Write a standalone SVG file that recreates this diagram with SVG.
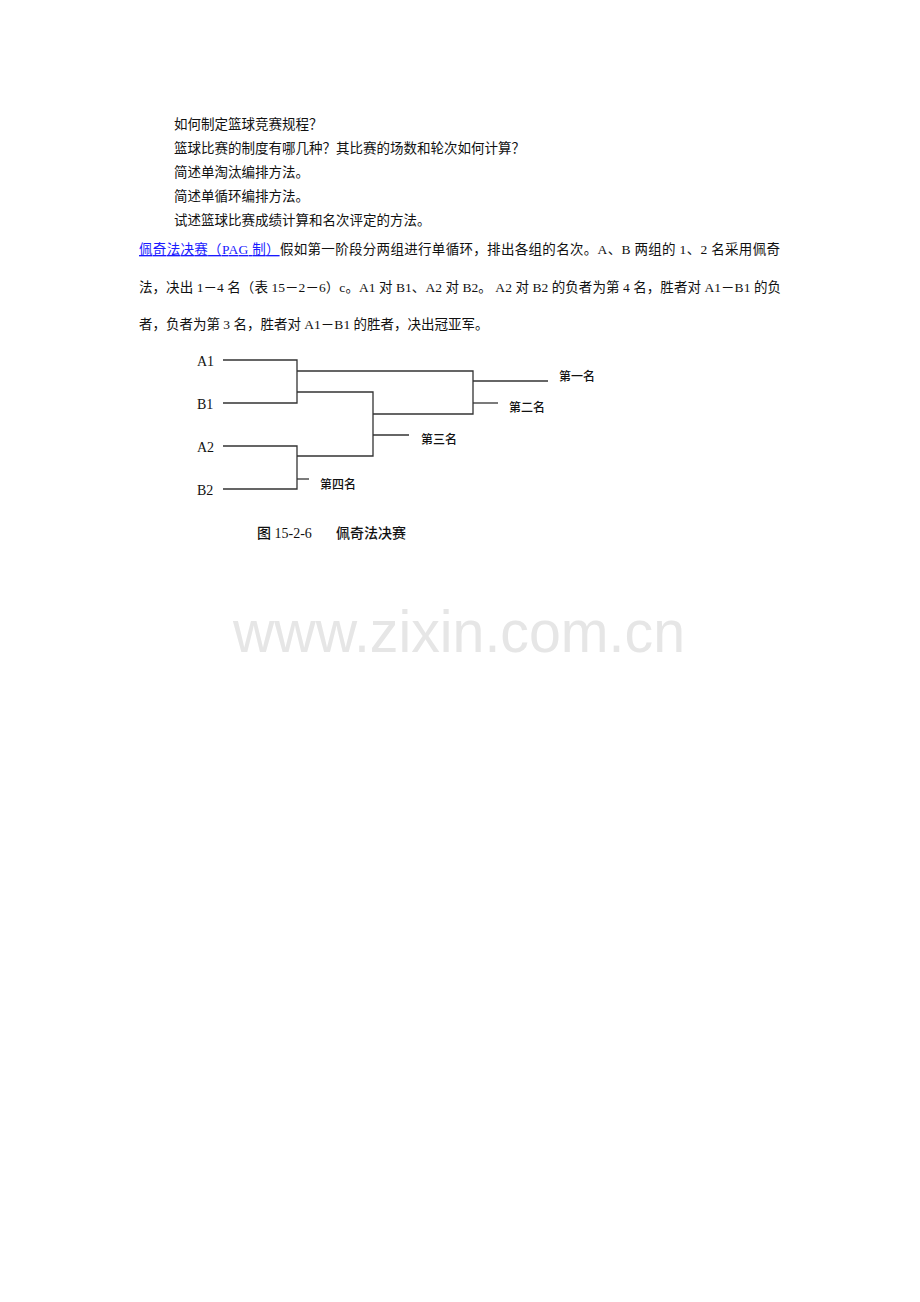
<svg xmlns="http://www.w3.org/2000/svg" width="920" height="1302" viewBox="0 0 920 1302">
<style>
.body{font-family:"Liberation Serif","Noto Sans CJK SC",serif;font-size:13.5px;fill:#111}
.lbl{font-family:"Liberation Serif","Noto Sans CJK SC",serif;font-size:14px;fill:#111}
.rank{font-family:"Noto Sans CJK SC",sans-serif;font-size:12px;fill:#111;font-weight:500}
.cap{font-family:"Liberation Serif","Noto Sans CJK SC",serif;font-size:14px;fill:#111;font-weight:500}
.ln{stroke:#333;stroke-width:1.3;fill:none}
</style>
<rect width="920" height="1302" fill="#fff"/>
<g id="questions">
<text class="body" x="174" y="129">如何制定篮球竞赛规程？</text>
<text class="body" x="174" y="153">篮球比赛的制度有哪几种？其比赛的场数和轮次如何计算？</text>
<text class="body" x="174" y="177">简述单淘汰编排方法。</text>
<text class="body" x="174" y="201">简述单循环编排方法。</text>
<text class="body" x="174" y="225">试述篮球比赛成绩计算和名次评定的方法。</text>
</g>
<g id="paragraph">
<text class="body" x="139" y="254" textLength="641" lengthAdjust="spacing"><tspan fill="#1a1aff" text-decoration="underline">佩奇法决赛（PAG 制）</tspan>假如第一阶段分两组进行单循环，排出各组的名次。A、B 两组的 1、2 名采用佩奇</text>
<text class="body" x="139" y="292" textLength="642" lengthAdjust="spacing">法，决出 1－4 名（表 15－2－6）c。A1 对 B1、A2 对 B2。 A2 对 B2 的负者为第 4 名，胜者对 A1－B1 的负</text>
<text class="body" x="139" y="329">者，负者为第 3 名，胜者对 A1－B1 的胜者，决出冠亚军。</text>
</g>
<g id="teams">
<g id="A1"><text class="lbl" x="197" y="366">A1</text></g>
<g id="B1"><text class="lbl" x="197" y="409">B1</text></g>
<g id="A2"><text class="lbl" x="197" y="452">A2</text></g>
<g id="B2"><text class="lbl" x="197" y="495">B2</text></g>
</g>
<g id="ranks">
<g id="rank1"><text class="rank" x="559" y="381">第一名</text></g>
<g id="rank2"><text class="rank" x="509" y="412">第二名</text></g>
<g id="rank3"><text class="rank" x="421" y="444">第三名</text></g>
<g id="rank4"><text class="rank" x="320" y="489">第四名</text></g>
</g>
<g id="connectors">
<path class="ln" d="M223 360H297V403H223"/>
<path class="ln" d="M223 446H297V489H223"/>
<path class="ln" d="M297 371H473V414H373"/>
<path class="ln" d="M297 392H373V456H297"/>
<path class="ln" d="M373 435H409"/>
<path class="ln" d="M297 479H309"/>
<path class="ln" d="M473 381H548"/>
<path class="ln" d="M473 403H498"/>
</g>
<g id="caption">
<text class="cap" x="257" y="538">图 15-2-6<tspan x="336">佩奇法决赛</tspan></text>
</g>
<g id="watermark">
<text x="233" y="652" font-family="Liberation Sans,Arial,sans-serif" font-size="60" fill="#e6e6e6" textLength="452" lengthAdjust="spacingAndGlyphs">www.zixin.com.cn</text>
</g>
</svg>
